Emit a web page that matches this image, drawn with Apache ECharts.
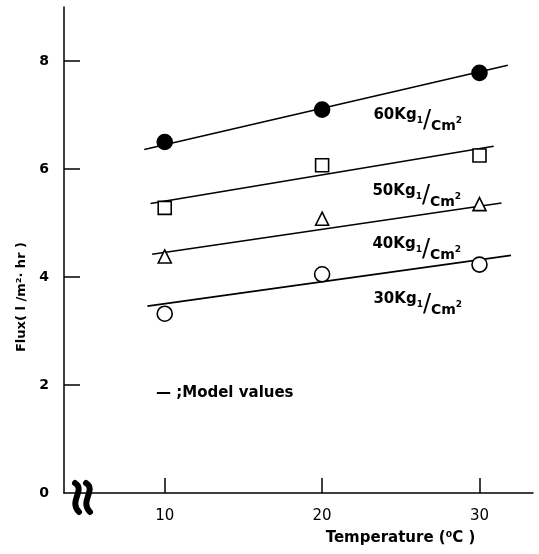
<!DOCTYPE html>
<html><head><meta charset="utf-8">
<script src="https://cdn.jsdelivr.net/npm/echarts@6/dist/echarts.min.js"></script>
<style>html,body{margin:0;padding:0;background:#fff}#c{width:539px;height:554px}</style>
</head><body><div id="c"></div>
<script>
// ---- data ----
const temps = [10, 20, 30];
const flux60 = [6.5, 7.1, 7.78];
const flux50 = [5.28, 6.07, 6.25];
const flux40 = [4.38, 5.08, 5.35];
const flux30 = [3.32, 4.05, 4.23];
// model lines: [temperature, flux] endpoints
const model60 = [[8.7, 6.36], [31.8, 7.92]];
const model50 = [[9.1, 5.36], [30.9, 6.42]];
const model40 = [[9.2, 4.42], [31.4, 5.37]];
const model30 = [[8.9, 3.46], [32.0, 4.40]];
const xTicks = [10, 20, 30];
const yTicks = [0, 2, 4, 6, 8];
const pressures = ['60', '50', '40', '30'];

const FONT = '"DejaVu Sans", "Liberation Sans", sans-serif';
const chart = echarts.init(document.getElementById('c'));

function pts(ys) { return temps.map((t, i) => [t, ys[i]]); }
function pressLabel(p, dy) {
  const base = { fontFamily: FONT, fontWeight: 'bold', color: '#000', lineHeight: 26 };
  return {
    show: true, position: 'right', offset: [38, dy],
    formatter: (d) => d.dataIndex === 1 ? `{a|${p}Kg}{s|1}{sl|/}{b|Cm}{p|2}` : '',
    rich: {
      a: Object.assign({}, base, { fontSize: 15, verticalAlign: 'top' }),
      s: Object.assign({}, base, { fontSize: 9, verticalAlign: 'middle' }),
      sl: Object.assign({}, base, { fontSize: 24, fontWeight: 'normal' }),
      b: Object.assign({}, base, { fontSize: 14, verticalAlign: 'bottom' }),
      p: Object.assign({}, base, { fontSize: 9, verticalAlign: 'middle' })
    }
  };
}
function modelSeries(d) {
  return { type: 'line', data: d, symbol: 'none', lineStyle: { color: '#000', width: 1.6 }, silent: true, z: 2 };
}
function scatter(ys, symbol, size, filled, lab) {
  return {
    type: 'scatter', data: pts(ys), symbol: symbol, symbolSize: size, z: 3,
    itemStyle: { color: filled ? '#000' : '#fff', borderColor: '#000', borderWidth: 1.6, opacity: 1 },
    label: lab
  };
}

chart.setOption({
  animation: false,
  backgroundColor: '#fff',
  grid: { left: 64, right: 6, top: 7, bottom: 61 },
  xAxis: {
    type: 'value', min: 3.6, max: 33.4,
    name: 'Temperature (⁰C )', nameLocation: 'middle', nameGap: 38,
    nameTextStyle: { fontFamily: FONT, fontSize: 15, fontWeight: 'bold', color: '#000', padding: [0, 0, 0, 204] },
    axisLine: { lineStyle: { color: '#000', width: 1.5 } },
    axisTick: { inside: true, length: 15, lineStyle: { color: '#000', width: 1.5 }, customValues: xTicks },
    axisLabel: { customValues: xTicks, margin: 16, fontFamily: FONT, fontSize: 15, color: '#000' },
    splitLine: { show: false }
  },
  yAxis: {
    type: 'value', min: 0, max: 9,
    name: 'Flux( l /m²· hr )', nameLocation: 'middle', nameGap: 36, nameRotate: 90,
    nameTextStyle: { fontFamily: FONT, fontSize: 13, fontWeight: 'bold', color: '#000', padding: [0, 94, 0, 0] },
    axisLine: { lineStyle: { color: '#000', width: 1.5 } },
    axisTick: { inside: true, length: 16, lineStyle: { color: '#000', width: 1.5 }, customValues: [2, 4, 6, 8] },
    axisLabel: { customValues: yTicks, margin: 15, fontFamily: FONT, fontSize: 14, fontWeight: 'bold', color: '#000' },
    splitLine: { show: false }
  },
  series: [
    modelSeries(model60), modelSeries(model50), modelSeries(model40), modelSeries(model30),
    scatter(flux60, 'circle', 15, true, pressLabel(pressures[0], 11)),
    scatter(flux50, 'rect', 13, false, pressLabel(pressures[1], 31)),
    scatter(flux40, 'triangle', 13, false, pressLabel(pressures[2], 31)),
    scatter(flux30, 'circle', 15, false, pressLabel(pressures[3], 30))
  ],
  graphic: [
    { type: 'text', left: 156, top: 386, style: { text: '— ;Model values', font: 'bold 15px ' + FONT, fill: '#000' } },
    { type: 'group', left: 72, top: 480, children: [
      { type: 'bezierCurve', shape: { x1: 5, y1: 3, cpx1: 16, cpy1: 10, cpx2: -2, cpy2: 21, x2: 9, y2: 32 },
        style: { stroke: '#000', lineWidth: 6, lineCap: 'round' } },
      { type: 'bezierCurve', shape: { x1: 16, y1: 3, cpx1: 27, cpy1: 10, cpx2: 9, cpy2: 21, x2: 20, y2: 32 },
        style: { stroke: '#000', lineWidth: 6, lineCap: 'round' } }
    ] }
  ]
});
</script>
</body></html>
